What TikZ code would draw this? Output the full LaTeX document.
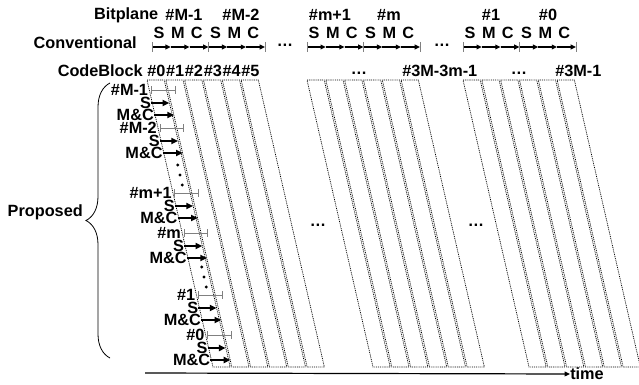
\documentclass[tikz,border=0pt]{standalone}
\usepackage{fontspec}
\setmainfont{Liberation Sans}
\usetikzlibrary{arrows.meta,calc,positioning,decorations.pathreplacing}

\begin{document}
\begin{tikzpicture}[x=0.75pt, y=-0.75pt,
    font=\fontsize{12.2}{14}\selectfont\bfseries,
    lbl/.style={inner sep=0pt},
    pass/.style={-{Triangle[length=5pt,width=4.5pt]}, line width=1.3pt},
    conv/.style={-{Triangle[length=4pt,width=3.5pt]}, line width=1pt},
    tick/.style={gray, line width=0.6pt},
    span/.style={gray, line width=0.6pt, {Bar[width=6pt]}-{Bar[width=6pt]}},
    band/.style={line width=0.55pt, dash pattern=on 0.7pt off 0.7pt}]

  \useasboundingbox (0,0) rectangle (639,385);

  % slanted code block bands
  \foreach \gx in {147,307,463}
    \foreach \i in {0,...,5}
      \draw[band] (\gx+\i*18.83,80) -- (\gx+\i*18.83+17.2,80)
        -- (\gx+\i*18.83+83.2,367) -- (\gx+\i*18.83+66,367) -- cycle;

  % header rows
  \node[lbl] (bpA) at (184,15) {\#M-1};
  \node[lbl, left=5pt of bpA] (bitplane) {Bitplane};
  \node[lbl] (bpB) at (241,15) {\#M-2};
  \node[lbl] (bpC) at (330,15) {\#m+1};
  \node[lbl] (bpD) at (389,15) {\#m};
  \node[lbl] (bpE) at (491,15) {\#1};
  \node[lbl] (bpF) at (548,15) {\#0};

  \node[lbl, anchor=east] (conventional) at (137,43) {Conventional};
  \foreach \gx [count=\g] in {152,307,463} {
    \foreach \p in {0,...,6}
      \coordinate (cv\g\p) at (\gx+\p*18.83,47);
    \foreach \p/\lt [evaluate=\p as \q using int(\p+1)] in {0/S,1/M,2/C,3/S,4/M,5/C} {
      \draw[conv] (cv\g\p) -- (cv\g\q);
      \node[lbl] at ($(cv\g\p)+(7,-14)$) {\lt};
    }
    \foreach \p in {0,3,6}
      \draw[tick] ($(cv\g\p)+(0,-5)$) -- ($(cv\g\p)+(0,5)$);
  }
  \node[lbl] (cvdotsA) at (285,45) {\dots};
  \node[lbl] (cvdotsB) at (442,45) {\dots};

  \node[lbl, anchor=east] (codeblock) at (143,71) {CodeBlock};
  \foreach \i in {0,...,5}
    \node[lbl, anchor=west] (cb\i) at (147+\i*18.83,71) {\#\i};
  \node[lbl] (cbdotsA) at (359,73) {\dots};
  \node[lbl, anchor=west] (cbmid) at (402,71) {\#3M-3m-1};
  \node[lbl] (cbdotsB) at (519,73) {\dots};
  \node[lbl, anchor=west] (cblast) at (555,71) {\#3M-1};

  % proposed schedule
  \foreach \y/\bp [count=\k] in {90/\#M-1,128/\#M-2,193/\#m+1,233/\#m,295/\#1,335/\#0} {
    \pgfmathsetmacro\ea{147+0.23*(\y-80)}
    \pgfmathsetmacro\eb{147+0.23*(\y+13-80)}
    \pgfmathsetmacro\ec{147+0.23*(\y+25-80)}
    \node[lbl, anchor=east] (bp\k) at (\ea-1,\y) {\bp};
    \coordinate (bpL\k) at (\ea+1.5,\y);
    \coordinate (bpR\k) at (\ea+26,\y);
    \draw[span] (bpL\k) -- (bpR\k);
    \node[lbl, anchor=east] (s\k) at (\eb-1,\y+13) {S};
    \coordinate (sR\k) at (\eb+17,\y+13);
    \draw[pass] (s\k.east) -- (sR\k);
    \node[lbl, anchor=east] (mc\k) at (\ec-1,\y+25) {M\&C};
    \coordinate (mcR\k) at (\ec+19,\y+25);
    \draw[pass] (mc\k.east) -- (mcR\k);
  }
  \foreach \y in {165,175,185}
    \fill ({180+0.23*(\y-175)},\y) circle (1.6);
  \foreach \y in {267,277,287}
    \fill ({204+0.23*(\y-277)},\y) circle (1.6);

  \node[lbl] (midA) at (318,225) {\dots};
  \node[lbl] (midB) at (476,225) {\dots};

  \coordinate (brB) at (110,358);
  \coordinate (brT) at (110,83);
  \draw[line width=0.6pt, decorate, decoration={brace, amplitude=18pt}] (brB) -- (brT);
  \node[lbl, anchor=east] (proposed) at (83,212) {Proposed};

  % time axis
  \coordinate (t0) at (145,373);
  \node[lbl, anchor=west] (time) at (570,374) {time};
  \draw[-{Triangle[length=4pt,width=3.5pt]}, line width=0.9pt] (t0) -- (time.west);
\end{tikzpicture}
\end{document}
